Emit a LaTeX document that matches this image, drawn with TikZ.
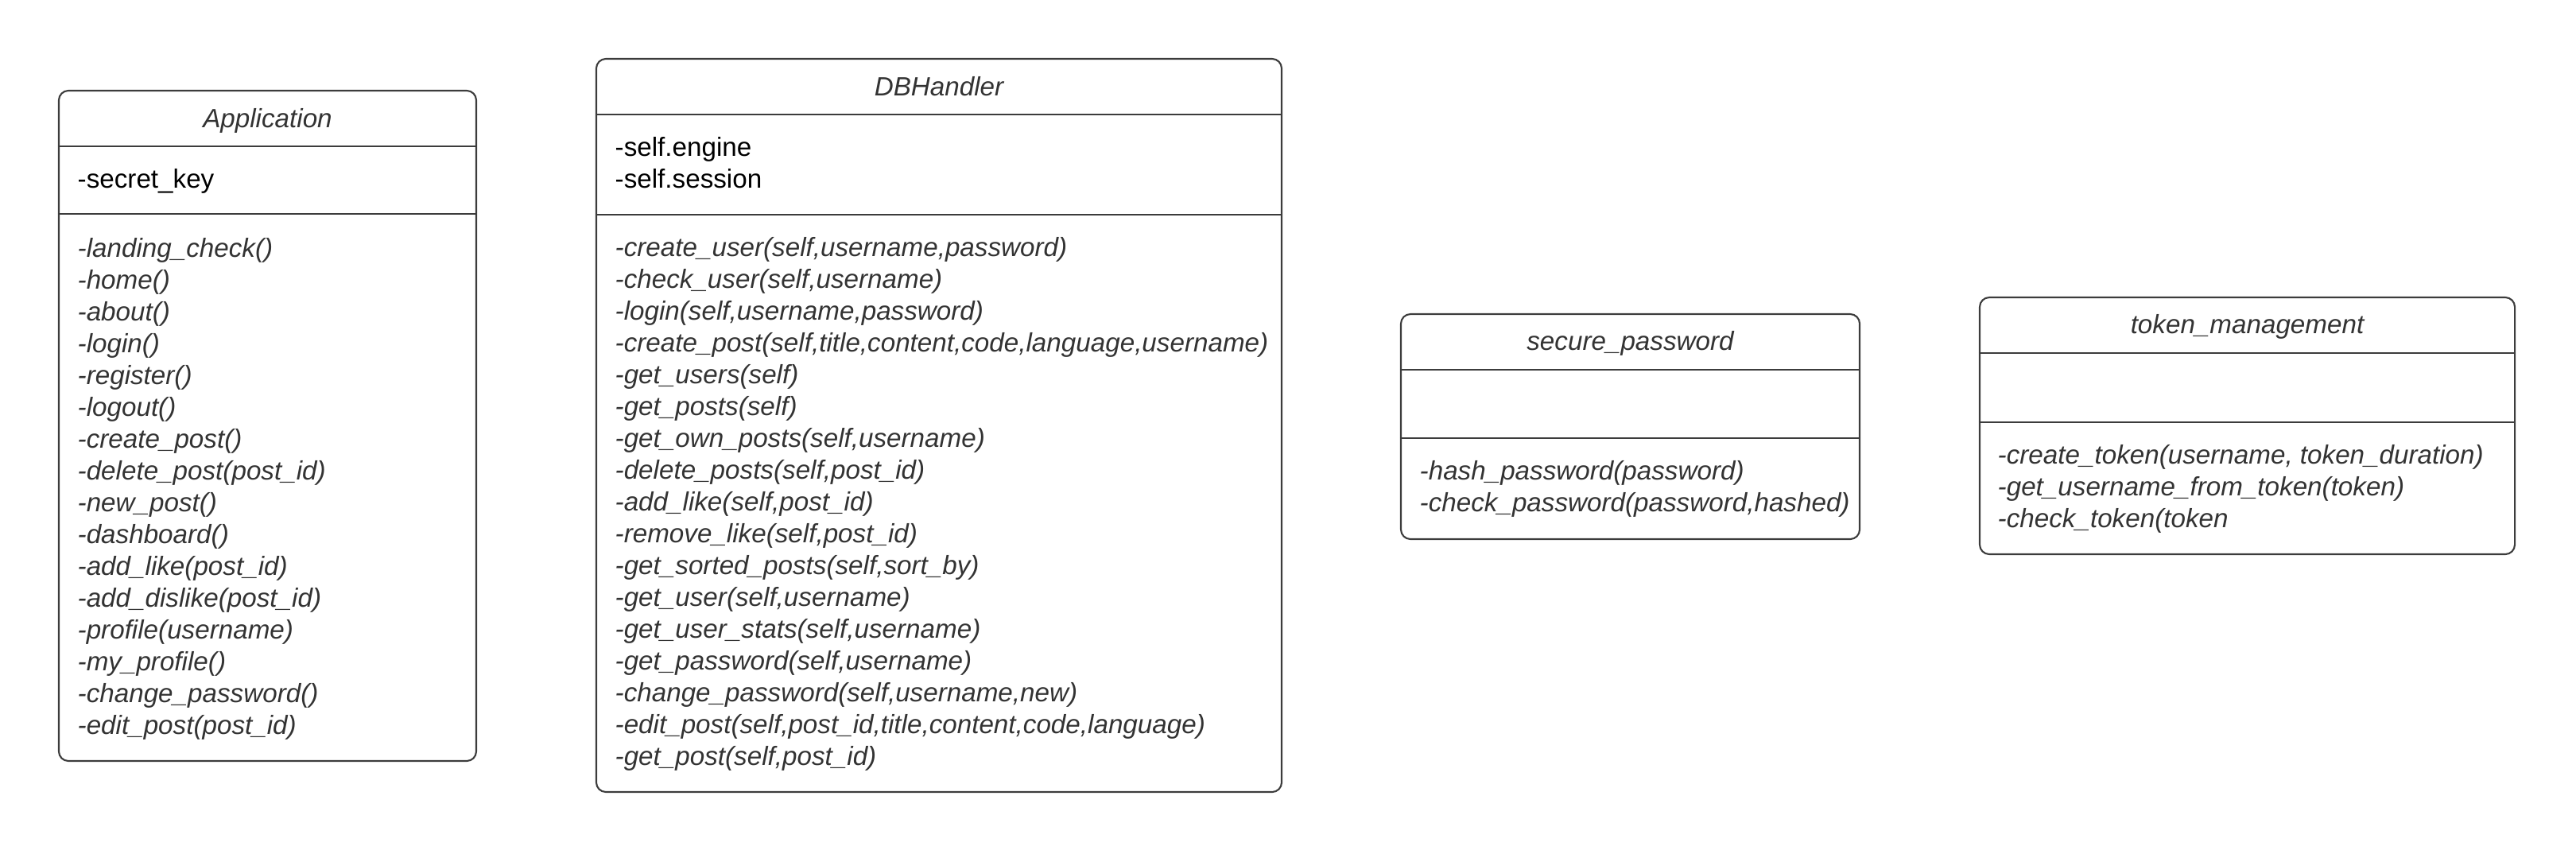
\documentclass[tikz,border=0pt]{standalone}
\usepackage{fontspec}
\setmainfont{Liberation Sans}
\usepackage{tikz}
\usetikzlibrary{positioning,calc}
\definecolor{frame}{RGB}{60,60,60}
\definecolor{ink}{RGB}{51,51,51}
\tikzset{
  classbox/.style={draw=frame,line width=0.6pt,rounded corners=1.2mm,inner sep=0pt},
  divider/.style={draw=frame,line width=0.6pt},
  classname/.style={font=\fontsize{9.45}{11.4}\selectfont\itshape,text=ink,inner sep=0pt,anchor=base,yshift=-0.3mm},
  attr/.style={font=\fontsize{9.45}{11.4}\selectfont,text=black,inner sep=0pt,anchor=base west,yshift=-0.3mm},
  meth/.style={font=\fontsize{9.45}{11.4}\selectfont\itshape,text=ink,inner sep=0pt,anchor=base west,yshift=-0.3mm},
}

\begin{document}
\begin{tikzpicture}
    \useasboundingbox (0,0) rectangle (32.4,-10.73);
    % Application
    \node[classbox,minimum width=52.5mm,minimum height=84.3mm] (app) at (3.365,-5.355) {};
    \node[classname] (app-name) at (3.365,-1.57) {Application};
    \draw[divider] (app.west |- 0,-1.84) -- (app.east |- 0,-1.84);
    \draw[divider] (app.west |- 0,-2.69) -- (app.east |- 0,-2.69);
    \node[attr] (app-a0) at (0.97,-2.33) {-secret\_key};
    \foreach \m [count=\i from 0] in {{-landing\_check()},{-home()},{-about()},{-login()},
      {-register()},{-logout()},{-create\_post()},{-delete\_post(post\_id)},{-new\_post()},
      {-dashboard()},{-add\_like(post\_id)},{-add\_dislike(post\_id)},{-profile(username)},
      {-my\_profile()},{-change\_password()},{-edit\_post(post\_id)}}
      \node[meth] (app-m\i) at (0.97,{-3.20-0.4*\i}) {\m};
    % DBHandler
    \node[classbox,minimum width=86.2mm,minimum height=92.2mm] (db) at (11.81,-5.35) {};
    \node[classname] (db-name) at (11.81,-1.17) {DBHandler};
    \draw[divider] (db.west |- 0,-1.44) -- (db.east |- 0,-1.44);
    \draw[divider] (db.west |- 0,-2.70) -- (db.east |- 0,-2.70);
    \node[attr] (db-a0) at (7.73,-1.93) {-self.engine};
    \node[attr] (db-a1) at (7.73,-2.33) {-self.session};
    \foreach \m [count=\i from 0] in {{-create\_user(self,username,password)},
      {-check\_user(self,username)},{-login(self,username,password)},
      {-create\_post(self,title,content,code,language,username)},{-get\_users(self)},
      {-get\_posts(self)},{-get\_own\_posts(self,username)},{-delete\_posts(self,post\_id)},
      {-add\_like(self,post\_id)},{-remove\_like(self,post\_id)},
      {-get\_sorted\_posts(self,sort\_by)},{-get\_user(self,username)},
      {-get\_user\_stats(self,username)},{-get\_password(self,username)},
      {-change\_password(self,username,new)},
      {-edit\_post(self,post\_id,title,content,code,language)},{-get\_post(self,post\_id)}}
      \node[meth] (db-m\i) at (7.73,{-3.19-0.4*\i}) {\m};
    % secure_password
    \node[classbox,minimum width=57.7mm,minimum height=28.3mm] (sp) at (20.505,-5.365) {};
    \node[classname] (sp-name) at (20.505,-4.37) {secure\_password};
    \draw[divider] (sp.west |- 0,-4.65) -- (sp.east |- 0,-4.65);
    \draw[divider] (sp.west |- 0,-5.51) -- (sp.east |- 0,-5.51);
    \node[meth] (sp-m0) at (17.85,-6.00) {-hash\_password(password)};
    \node[meth] (sp-m1) at (17.85,-6.40) {-check\_password(password,hashed)};
    % token_management
    \node[classbox,minimum width=67.3mm,minimum height=32.3mm] (tm) at (28.265,-5.355) {};
    \node[classname] (tm-name) at (28.265,-4.16) {token\_management};
    \draw[divider] (tm.west |- 0,-4.44) -- (tm.east |- 0,-4.44);
    \draw[divider] (tm.west |- 0,-5.31) -- (tm.east |- 0,-5.31);
    \node[meth] (tm-m0) at (25.12,-5.80) {-create\_token(username, token\_duration)};
    \node[meth] (tm-m1) at (25.12,-6.20) {-get\_username\_from\_token(token)};
    \node[meth] (tm-m2) at (25.12,-6.60) {-check\_token(token};
\end{tikzpicture}
\end{document}
